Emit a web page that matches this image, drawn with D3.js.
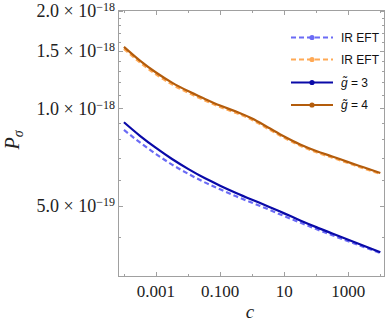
<!DOCTYPE html>
<html>
<head>
<meta charset="utf-8">
<script src="https://cdn.jsdelivr.net/npm/d3@7"></script>
<style>
  body { margin: 0; background: #fff; }
  svg { display: block; }
</style>
</head>
<body>
<div id="vis"></div>
<script>
const width = 387;
const height = 325;

// c values (log spaced), P_sigma values in units of 1e-18
const cValues = [1e-4, 3.16e-4, 1e-3, 3.16e-3, 0.01, 0.0316, 0.1, 0.316, 1, 3.16, 10, 31.6, 100, 316, 1000, 3162, 10000];
const irBlue = [0.856, 0.783, 0.721, 0.669, 0.627, 0.591, 0.561, 0.534, 0.510, 0.487, 0.464, 0.443, 0.423, 0.405, 0.388, 0.372, 0.357];
const irOrange = [1.523, 1.382, 1.270, 1.183, 1.115, 1.058, 1.007, 0.966, 0.919, 0.862, 0.809, 0.765, 0.730, 0.703, 0.676, 0.650, 0.626];
const g3 = [0.904, 0.821, 0.753, 0.696, 0.649, 0.609, 0.576, 0.547, 0.521, 0.497, 0.473, 0.450, 0.429, 0.410, 0.392, 0.375, 0.359];
const g4 = [1.545, 1.401, 1.287, 1.198, 1.128, 1.070, 1.018, 0.975, 0.928, 0.871, 0.817, 0.772, 0.737, 0.709, 0.681, 0.655, 0.630];

const series = [
  { name: "IR EFT", values: irBlue, color: "#6b6bf5", dash: "5,3" },
  { name: "IR EFT", values: irOrange, color: "#ffa955", dash: "5,3" },
  { name: "3", values: g3, color: "#0a0aa8", dash: null },
  { name: "4", values: g4, color: "#b35c0c", dash: null }
];

const yMajor = [
  { v: 0.5, m: "5.0", e: "\u221219" },
  { v: 1.0, m: "1.0", e: "\u221218" },
  { v: 1.5, m: "1.5", e: "\u221218" },
  { v: 2.0, m: "2.0", e: "\u221218" }
];
const yMinor = [0.4, 0.6, 0.7, 0.8, 0.9, 1.1, 1.2, 1.3, 1.4, 1.6, 1.7, 1.8, 1.9];
const xMajor = [0.001, 0.1, 10, 1000];
const xLabels = ["0.001", "0.100", "10", "1000"];
const xMinor = [1e-4, 0.01, 1, 100, 10000];

const frameL = 118.5, frameR = 384.5, frameT = 10.5, frameB = 276.5;

const svg = d3.select("#vis")
  .append("svg")
  .attr("width", width)
  .attr("height", height);

const x = d3.scaleLog()
  .domain([Math.pow(10, -4.17), Math.pow(10, 4.13)])
  .range([frameL, frameR]);

const y = d3.scaleLog()
  .domain([0.302, 2.0])
  .range([frameB, frameT]);

// frame
svg.append("rect")
  .attr("x", frameL)
  .attr("y", frameT)
  .attr("width", frameR - frameL)
  .attr("height", frameB - frameT)
  .attr("fill", "none")
  .attr("stroke", "#a0a0a0")
  .attr("stroke-width", 1);

const tickColor = "#a0a0a0";

// y ticks, both sides
yMajor.concat(yMinor.map(v => ({ v: v, minor: true }))).forEach(t => {
  const yy = Math.round(y(t.v)) + 0.5;
  const len = t.minor ? 2.5 : 4.5;
  svg.append("line").attr("x1", frameL).attr("x2", frameL + len).attr("y1", yy).attr("y2", yy)
    .attr("stroke", tickColor);
  svg.append("line").attr("x1", frameR).attr("x2", frameR - len).attr("y1", yy).attr("y2", yy)
    .attr("stroke", tickColor);
});

// x ticks, bottom and top
xMajor.map(v => ({ v: v })).concat(xMinor.map(v => ({ v: v, minor: true }))).forEach(t => {
  const xx = Math.round(x(t.v)) + 0.5;
  const len = t.minor ? 2.5 : 4.5;
  svg.append("line").attr("x1", xx).attr("x2", xx).attr("y1", frameB).attr("y2", frameB - len)
    .attr("stroke", tickColor);
  svg.append("line").attr("x1", xx).attr("x2", xx).attr("y1", frameT).attr("y2", frameT + len)
    .attr("stroke", tickColor);
});

// y tick labels
yMajor.forEach(t => {
  const lbl = svg.append("text")
    .attr("x", 115)
    .attr("y", y(t.v) + 6.5)
    .attr("text-anchor", "end")
    .attr("font-family", "Liberation Serif, Times New Roman, serif")
    .attr("font-size", "18px")
    .attr("fill", "#222");
  lbl.append("tspan").text(t.m + " \u00d7 10");
  lbl.append("tspan").attr("dy", -6).attr("font-size", "12px").text(t.e);
});

// x tick labels
xMajor.forEach((v, i) => {
  svg.append("text")
    .attr("x", x(v))
    .attr("y", 297)
    .attr("text-anchor", "middle")
    .attr("font-family", "Liberation Serif, Times New Roman, serif")
    .attr("font-size", "17px")
    .attr("fill", "#222")
    .text(xLabels[i]);
});

// axis titles
svg.append("text")
  .attr("x", 250)
  .attr("y", 318)
  .attr("text-anchor", "middle")
  .attr("font-family", "Liberation Serif, Times New Roman, serif")
  .attr("font-style", "italic")
  .attr("font-size", "19px")
  .attr("fill", "#222")
  .text("c");

const ylab = svg.append("text")
  .attr("transform", "translate(19,140) rotate(-90)")
  .attr("text-anchor", "middle")
  .attr("font-family", "Liberation Serif, Times New Roman, serif")
  .attr("font-style", "italic")
  .attr("font-size", "20px")
  .attr("fill", "#222");
ylab.append("tspan").text("P");
ylab.append("tspan").attr("dy", 4).attr("font-size", "14px").text("\u03c3");

// curves
const line = d3.line()
  .x(d => x(d.c))
  .y(d => y(d.v))
  .curve(d3.curveMonotoneX);

svg.append("clipPath").attr("id", "clip")
  .append("rect").attr("x", frameL).attr("y", frameT).attr("width", frameR - frameL).attr("height", frameB - frameT);

const plot = svg.append("g").attr("clip-path", "url(#clip)");

series.forEach(s => {
  plot.append("path")
    .datum(cValues.map((c, i) => ({ c: c, v: s.values[i] })))
    .attr("fill", "none")
    .attr("stroke", s.color)
    .attr("stroke-width", 2.2)
    .attr("stroke-dasharray", s.dash)
    .attr("d", line);
});

// legend
const legendY = [37.5, 59.5, 82.5, 105];
series.forEach((s, i) => {
  const g = svg.append("g").attr("transform", `translate(0,${legendY[i]})`);
  g.append("line")
    .attr("x1", 291).attr("x2", 333).attr("y1", 0).attr("y2", 0)
    .attr("stroke", s.color)
    .attr("stroke-width", 2.2)
    .attr("stroke-dasharray", s.dash);
  g.append("circle")
    .attr("cx", 312).attr("cy", 0).attr("r", 2.6)
    .attr("fill", s.color);
  const t = g.append("text")
    .attr("x", 341)
    .attr("y", 4)
    .attr("font-family", "Liberation Sans, Arial, sans-serif")
    .attr("font-size", "12px")
    .attr("fill", "#111");
  if (s.dash) {
    t.text(s.name);
  } else {
    t.append("tspan").attr("font-style", "italic").text("g\u0303");
    t.append("tspan").text(" = " + s.name);
  }
});
</script>
</body>
</html>
